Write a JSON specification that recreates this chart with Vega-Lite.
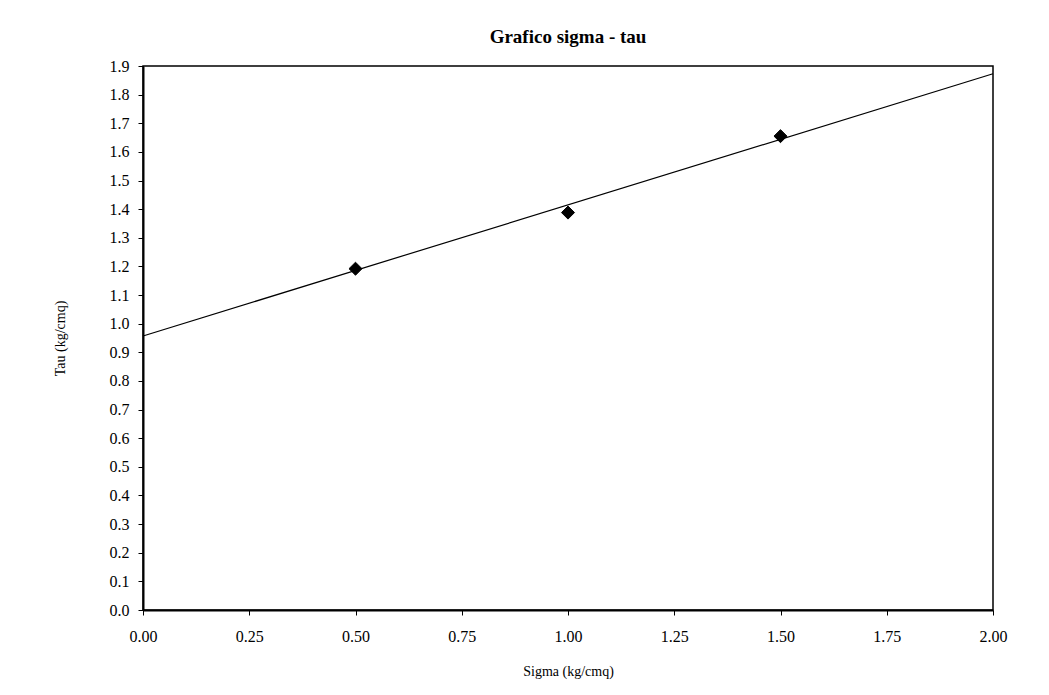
{
  "$schema": "https://vega.github.io/schema/vega-lite/v6.json",
  "autosize": {"type": "none"},
  "width": 850,
  "height": 544,
  "padding": {"left": 143, "top": 66, "right": 56, "bottom": 85},
  "background": "white",
  "config": {
    "font": "Liberation Serif",
    "view": {"stroke": "black", "strokeWidth": 1.5},
    "axis": {
      "grid": false,
      "domainColor": "black",
      "domainWidth": 2,
      "tickColor": "black",
      "tickSize": 5,
      "tickWidth": 1,
      "labelFont": "Liberation Serif",
      "labelFontSize": 16,
      "labelColor": "black",
      "labelOverlap": false,
      "labelFlush": false,
      "titleFont": "Liberation Serif",
      "titleFontSize": 14,
      "titleFontWeight": "normal",
      "titleColor": "black"
    }
  },
  "title": {
    "text": "Grafico sigma - tau",
    "font": "Liberation Serif",
    "fontSize": 19,
    "fontWeight": "bold",
    "color": "black",
    "anchor": "middle",
    "offset": 11
  },
  "datasets": {
    "points": [
      {"sigma": 0.5, "tau": 1.192},
      {"sigma": 1.0, "tau": 1.388},
      {"sigma": 1.5, "tau": 1.655}
    ],
    "trend": [
      {"sigma": 0.0, "tau": 0.957},
      {"sigma": 2.0, "tau": 1.873}
    ]
  },
  "encoding": {
    "x": {
      "field": "sigma", "type": "quantitative",
      "scale": {"domain": [0, 2], "nice": false, "zero": false},
      "axis": {
        "title": "Sigma (kg/cmq)",
        "values": [0, 0.25, 0.5, 0.75, 1, 1.25, 1.5, 1.75, 2],
        "format": ".2f",
        "labelOverlap": false,
        "labelPadding": 13,
        "titlePadding": 20
      }
    },
    "y": {
      "field": "tau", "type": "quantitative",
      "scale": {"domain": [0, 1.9], "nice": false},
      "axis": {
        "title": "Tau (kg/cmq)",
        "values": [0, 0.1, 0.2, 0.3, 0.4, 0.5, 0.6, 0.7, 0.8, 0.9, 1.0, 1.1, 1.2, 1.3, 1.4, 1.5, 1.6, 1.7, 1.8, 1.9],
        "tickCount": 20,
        "format": ".1f",
        "labelOverlap": false,
        "labelPadding": 9,
        "titlePadding": 42
      }
    }
  },
  "layer": [
    {
      "data": {"name": "trend"},
      "mark": {"type": "line", "color": "black", "strokeWidth": 1.2}
    },
    {
      "data": {"name": "points"},
      "mark": {"type": "point", "shape": "diamond", "filled": true, "color": "black", "opacity": 1, "size": 170, "stroke": "black", "strokeWidth": 1}
    }
  ]
}
